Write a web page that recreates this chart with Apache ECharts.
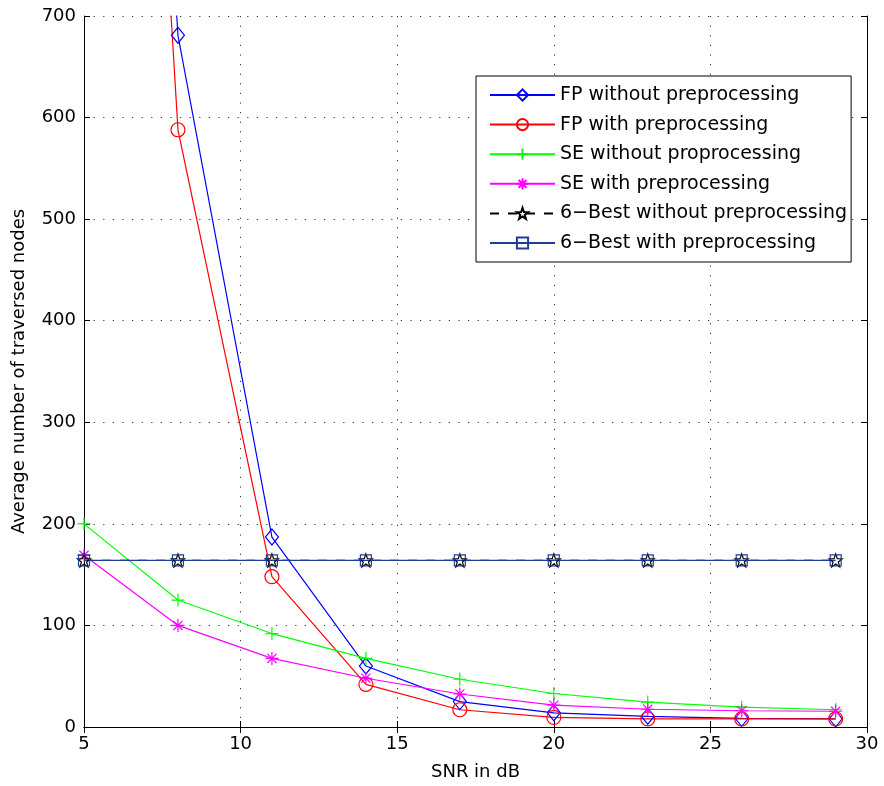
<!DOCTYPE html>
<html>
<head>
<meta charset="utf-8">
<script src="https://cdn.jsdelivr.net/npm/echarts@6/dist/echarts.min.js"></script>
<style>
  html, body { margin: 0; padding: 0; background: #fff; }
  #main { width: 884px; height: 786px; }
</style>
</head>
<body>
<div id="main"></div>
<script>
// SNR points
var snr = [5, 8, 11, 14, 17, 20, 23, 26, 29];

// values (first FP points go off the top)
var fpWithout = [2150, 681, 187, 60, 25, 14, 10.5, 8.5, 8];
var fpWith = [2120, 588, 148, 42, 17, 9.5, 8, 8, 8];
var seWithout = [200, 125, 92, 67.5, 47, 33, 24.5, 19.5, 17];
var seWith = [169, 100, 67.5, 48, 32.5, 21.5, 17.5, 16, 15.5];
var bestWithout = [164, 164, 164, 164, 164, 164, 164, 164, 164];
var bestWith = [164, 164, 164, 164, 164, 164, 164, 164, 164];

function pairs(ys) {
    return snr.map(function (x, i) { return [x, ys[i]]; });
}

var FONT = 'DejaVu Sans';
var plusPath = 'path://M0,-10L0,10M-10,0L10,0';
var starPath = 'path://M0,-10L0,10M-10,0L10,0M-7,-7L7,7M-7,7L7,-7';
var pentaPath = 'path://M0,-10L2.35,-3.24L9.51,-3.09L3.8,1.24L5.88,8.09L0,4L-5.88,8.09L-3.8,1.24L-9.51,-3.09L-2.35,-3.24Z';

var myChart = echarts.init(document.getElementById('main'));

function mkSeries(name, ys, color, symbol, size, dashed) {
    return {
        name: name,
        type: 'line',
        data: pairs(ys),
        symbol: symbol,
        symbolSize: size,
        showAllSymbol: true,
        clip: true,
        lineStyle: { color: color, width: 1.2, type: dashed ? [9, 9] : 'solid' },
        itemStyle: { color: 'rgba(0,0,0,0)', borderColor: color, borderWidth: 1.2 },
        emphasis: { disabled: true },
        animation: false
    };
}

var axisLabelStyle = { fontFamily: FONT, fontSize: 18, color: '#000' };
var gridLine = { show: true, lineStyle: { color: '#333', type: [1.2, 8.4], width: 1 } };

var option = {
    backgroundColor: '#fff',
    grid: { left: 84, right: 17, top: 16, bottom: 58 },
    legend: {
        orient: 'vertical',
        left: 476,
        top: 76,
        padding: [9, 4, 9, 13],
        itemWidth: 65,
        itemHeight: 14,
        itemGap: 9.6,
        backgroundColor: '#fff',
        borderColor: '#000',
        borderWidth: 1,
        textStyle: { fontFamily: FONT, fontSize: 19, color: '#000', lineHeight: 20 },
        data: ['FP without preprocessing', 'FP with preprocessing', 'SE without proprocessing',
            'SE with preprocessing', '6\u2212Best without preprocessing', '6\u2212Best with preprocessing']
    },
    xAxis: [{
        type: 'value',
        min: 5, max: 30, interval: 5,
        name: 'SNR in dB',
        nameLocation: 'middle',
        nameGap: 36,
        nameTextStyle: { fontFamily: FONT, fontSize: 18, color: '#000' },
        axisLine: { lineStyle: { color: '#000', width: 1 } },
        axisTick: { inside: true, length: 6, lineStyle: { color: '#000' } },
        axisLabel: axisLabelStyle,
        splitLine: gridLine
    }, {
        type: 'value', position: 'top',
        min: 5, max: 30, interval: 5,
        axisLine: { show: true, lineStyle: { color: '#000', width: 1 } },
        axisTick: { inside: true, length: 6, lineStyle: { color: '#000' } },
        axisLabel: { show: false },
        splitLine: { show: false }
    }],
    yAxis: [{
        type: 'value',
        min: 0, max: 700, interval: 100,
        name: 'Average number of traversed nodes',
        nameLocation: 'middle',
        nameGap: 56,
        nameTextStyle: { fontFamily: FONT, fontSize: 18, color: '#000' },
        axisLine: { show: true, lineStyle: { color: '#000', width: 1 } },
        axisTick: { show: true, inside: true, length: 6, lineStyle: { color: '#000' } },
        axisLabel: axisLabelStyle,
        splitLine: gridLine
    }, {
        type: 'value', position: 'right',
        min: 0, max: 700, interval: 100,
        axisLine: { show: true, lineStyle: { color: '#000', width: 1 } },
        axisTick: { show: true, inside: true, length: 6, lineStyle: { color: '#000' } },
        axisLabel: { show: false },
        splitLine: { show: false }
    }],
    series: [
        mkSeries('FP without preprocessing', fpWithout, '#0000ff', 'diamond', [13, 16]),
        mkSeries('FP with preprocessing', fpWith, '#ff0000', 'circle', 14),
        mkSeries('SE without proprocessing', seWithout, '#00ff00', plusPath, 13),
        mkSeries('SE with preprocessing', seWith, '#ff00ff', starPath, 13),
        mkSeries('6\u2212Best without preprocessing', bestWithout, '#000000', pentaPath, 13, true),
        mkSeries('6\u2212Best with preprocessing', bestWith, '#1f3c99', 'rect', 11)
    ]
};

myChart.setOption(option);
</script>
</body>
</html>
